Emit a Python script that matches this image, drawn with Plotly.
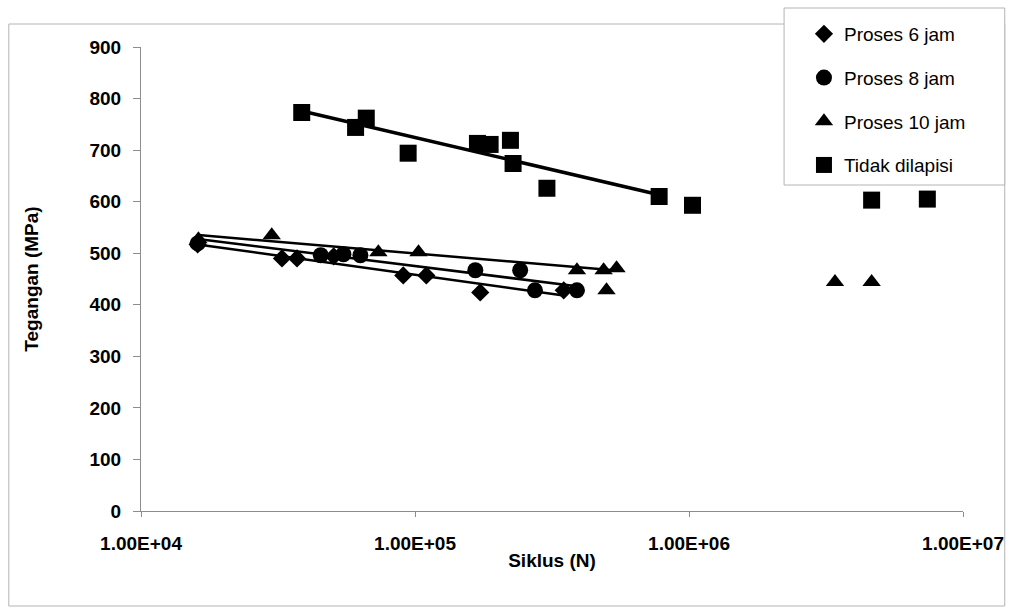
import numpy as np
import plotly.graph_objects as go

# Fatigue (S-N) test results: cycles to failure and applied stress (MPa)
n_6jam = [1.61e4, 3.27e4, 3.71e4, 5.05e4, 9.06e4, 1.10e5, 1.73e5, 3.49e5]
s_6jam = [517, 490, 490, 494, 457, 457, 424, 428]

n_8jam = [1.61e4, 4.53e4, 5.48e4, 6.32e4, 1.66e5, 2.42e5, 2.74e5, 3.90e5]
s_8jam = [519, 496, 498, 496, 467, 467, 428, 428]

n_10jam = [1.62e4, 3.00e4, 7.35e4, 1.03e5, 3.90e5, 4.88e5, 5.44e5]
s_10jam = [527, 535, 502, 502, 467, 467, 471]
n_10jam_extra = [5.0e5, 3.41e6, 4.64e6]
s_10jam_extra = [428, 444, 444]

n_bare = [3.86e4, 6.07e4, 6.64e4, 9.44e4, 1.69e5, 1.88e5, 2.23e5, 2.28e5, 3.03e5, 7.78e5]
s_bare = [773, 744, 762, 694, 713, 711, 719, 674, 626, 610]
n_bare_extra = [1.03e6, 4.64e6, 7.41e6]
s_bare_extra = [593, 603, 605]

x_tickvals = [1e4, 1e5, 1e6, 1e7]
x_ticktext = ["1.00E+04", "1.00E+05", "1.00E+06", "1.00E+07"]
y_tickvals = [0, 100, 200, 300, 400, 500, 600, 700, 800, 900]

FONT = "Arial, Liberation Sans, sans-serif"
W, H = 1016, 615
L, R, T, B = 141, 48, 47, 104


def px_x(p):
    return (p - L) / (W - L - R)


def px_y(p):
    return (H - B - p) / (H - T - B)


def log_trend(n, s):
    """Logarithmic trendline spanning the series' cycle range."""
    lx = np.log10(n)
    k, c = np.polyfit(lx, s, 1)
    xs = np.array([min(n), max(n)])
    return xs, k * np.log10(xs) + c


series = [
    ("Proses 6 jam", n_6jam, s_6jam, "diamond", 14, 2.5, None, None),
    ("Proses 8 jam", n_8jam, s_8jam, "circle", 16, 2.5, None, None),
    ("Proses 10 jam", n_10jam, s_10jam, "triangle-up", 16, 2.5, n_10jam_extra, s_10jam_extra),
    ("Tidak dilapisi", n_bare, s_bare, "square", 17, 3.5, n_bare_extra, s_bare_extra),
]

fig = go.Figure()
for name, n, s, sym, size, lw, nx, sx in series:
    tx, ty = log_trend(n, s)
    fig.add_trace(go.Scatter(x=tx, y=ty, mode="lines", line=dict(color="black", width=lw),
                             showlegend=False, legendgroup=name, hoverinfo="skip"))
    fig.add_trace(go.Scatter(x=n, y=s, mode="markers", name=name, legendgroup=name,
                             marker=dict(symbol=sym, size=size, color="black")))
    if nx is not None:
        fig.add_trace(go.Scatter(x=nx, y=sx, mode="markers", legendgroup=name, showlegend=False,
                                 marker=dict(symbol=sym, size=size, color="black")))

shapes = [
    # outer chart frame
    dict(type="rect", xref="paper", yref="paper", x0=px_x(8), x1=px_x(1010), y0=px_y(606), y1=px_y(24),
         line=dict(color="#b4b4b4", width=1), layer="below"),
    # legend frame
    dict(type="rect", xref="paper", yref="paper", x0=px_x(788), x1=px_x(1010), y0=px_y(185), y1=px_y(8),
         line=dict(color="#b4b4b4", width=1), fillcolor="white", layer="above"),
]

fig.update_layout(
    width=W, height=H,
    margin=dict(l=L, r=R, t=T, b=B),
    paper_bgcolor="white", plot_bgcolor="white",
    font=dict(family=FONT, color="black"),
    shapes=shapes,
    showlegend=True,
    legend=dict(x=px_x(808), y=px_y(15), xanchor="left", yanchor="top",
                bgcolor="rgba(0,0,0,0)", borderwidth=0, tracegroupgap=16,
                font=dict(family=FONT, size=19, color="black")),
    xaxis=dict(type="log", range=[4, 7], tickvals=x_tickvals, ticktext=x_ticktext,
               ticks="outside", ticklen=5, tickcolor="#8c8c8c", ticklabelstandoff=10,
               showline=True, linecolor="#8c8c8c", linewidth=1, showgrid=False, zeroline=False,
               tickfont=dict(family=FONT, size=19, weight="bold"),
               title=dict(text="Siklus (N)", font=dict(family=FONT, size=19, weight="bold"), standoff=0)),
    yaxis=dict(range=[0, 900], tickvals=y_tickvals,
               ticks="outside", ticklen=7, tickcolor="#8c8c8c", ticklabelstandoff=8,
               showline=True, linecolor="#8c8c8c", linewidth=1, showgrid=False, zeroline=False,
               tickfont=dict(family=FONT, size=19, weight="bold"),
               title=dict(text="Tegangan (MPa)", font=dict(family=FONT, size=19, weight="bold"), standoff=45)),
)

fig.write_html("out.html")
